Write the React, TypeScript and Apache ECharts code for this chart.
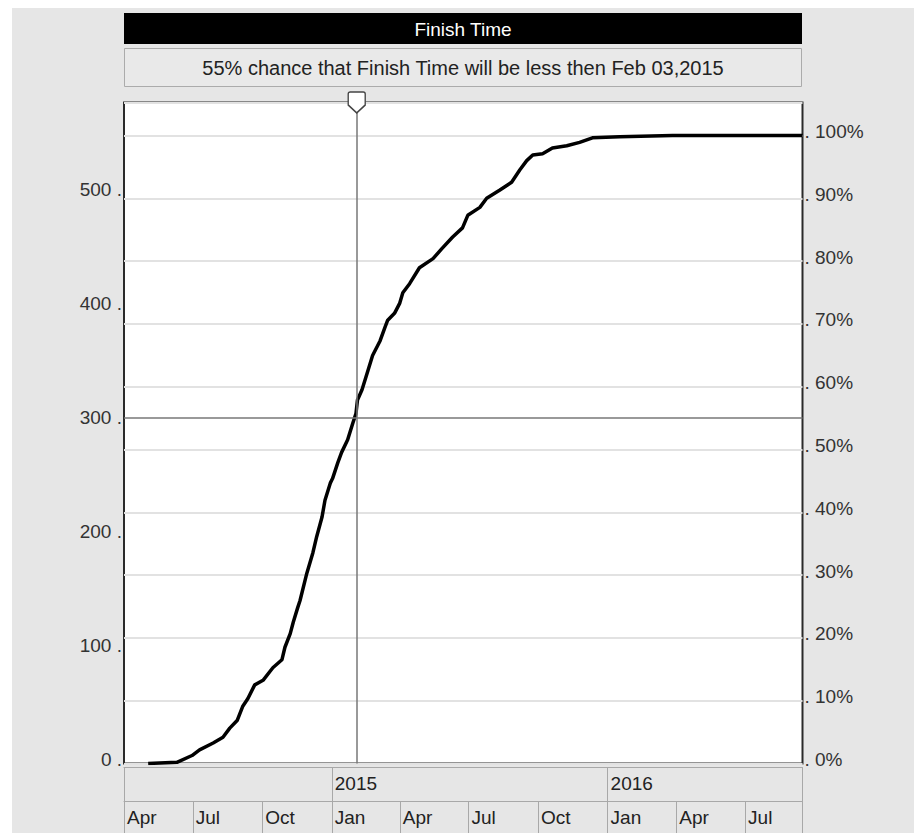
import React, { useEffect, useRef } from 'react';
import * as echarts from 'echarts';

// ---- data ----
const CURVE_DATES = [
  '2014-05-03', '2014-06-10', '2014-06-30', '2014-07-10', '2014-07-28', '2014-08-10', '2014-08-19',
  '2014-08-29', '2014-09-05', '2014-09-12', '2014-09-21', '2014-10-02', '2014-10-15', '2014-10-27',
  '2014-10-31', '2014-11-07', '2014-11-11', '2014-11-17', '2014-11-20', '2014-11-29', '2014-12-07',
  '2014-12-12', '2014-12-19', '2014-12-23', '2014-12-30', '2015-01-02', '2015-01-09', '2015-01-14',
  '2015-01-22', '2015-01-29', '2015-02-02', '2015-02-04', '2015-02-10', '2015-02-18', '2015-02-24',
  '2015-03-06', '2015-03-12', '2015-03-16', '2015-03-25', '2015-04-01', '2015-04-05', '2015-04-14',
  '2015-04-27', '2015-05-15', '2015-05-27', '2015-06-10', '2015-06-23', '2015-06-30', '2015-07-16',
  '2015-07-25', '2015-08-11', '2015-08-27', '2015-09-07', '2015-09-16', '2015-09-24', '2015-10-07',
  '2015-10-20', '2015-11-08', '2015-11-25', '2015-12-12', '2016-01-17', '2016-03-27', '2016-09-15',
];
const CURVE_COUNTS = [
  0, 1, 7, 12, 18, 23, 31,
  38, 50, 57, 69, 73, 84, 91,
  102, 114, 124, 137, 143, 167, 185,
  199, 216, 231, 246, 250, 264, 273,
  284, 299, 307, 319, 328, 345, 358,
  371, 382, 389, 395, 404, 413, 421,
  435, 443, 452, 462, 470, 481, 488,
  496, 503, 510, 521, 529, 534, 535,
  540, 542, 545, 549, 550, 551, 551,
];
const TOTAL = 551; // count that equals 100%
const CHANCE = 55;
const FINISH_DATE = '2015-02-03';
const X_MIN = '2014-04-01';
const X_MAX = '2016-09-15';
const LEFT_MAX = 580;
const LEFT_TICK_LABELS = [0, 100, 200, 300, 400, 500];
const RIGHT_TICK_LABELS = [0, 10, 20, 30, 40, 50, 60, 70, 80, 90, 100];
const QUARTER_DATES = [
  '2014-04-01', '2014-07-01', '2014-10-01', '2015-01-01', '2015-04-01',
  '2015-07-01', '2015-10-01', '2016-01-01', '2016-04-01', '2016-07-01',
];
const QUARTER_LABELS = ['Apr', 'Jul', 'Oct', 'Jan', 'Apr', 'Jul', 'Oct', 'Jan', 'Apr', 'Jul'];
const YEAR_DATES = ['2015-01-01', '2016-01-01'];
const YEAR_LABELS = ['2015', '2016'];
const TITLE = 'Finish Time';
const SUBTITLE = '55% chance that Finish Time will be less then Feb 03,2015';

function ts(s: string): number {
  const [y, m, d] = s.split('-').map(Number);
  return new Date(y, m - 1, d).getTime();
}

const FONT = 'Liberation Sans, Arial, sans-serif';

export default function App() {
  const ref = useRef<HTMLDivElement>(null);
  useEffect(() => {
    const chart = echarts.init(ref.current!, null, { renderer: 'svg' });
    const xMin = ts(X_MIN);
    const xMax = ts(X_MAX);
    const rightMax = (LEFT_MAX / TOTAL) * 100;
    const quarterMap: Record<number, string> = {};
    QUARTER_DATES.forEach((d, i) => (quarterMap[ts(d)] = QUARTER_LABELS[i]));
    const yearMap: Record<number, string> = {};
    YEAR_DATES.forEach((d, i) => (yearMap[ts(d)] = YEAR_LABELS[i]));
    const cellLine = { show: true, onZero: false, lineStyle: { color: '#a8a8a8', width: 1 } };

    const option: any = {
      animation: false,
      backgroundColor: '#e6e6e6',
      textStyle: { fontFamily: FONT },
      graphic: [
        { type: 'rect', shape: { x: 0, y: 0, width: 914, height: 8 }, style: { fill: '#fff' } },
        { type: 'rect', shape: { x: 0, y: 0, width: 12, height: 833 }, style: { fill: '#fff' } },
        { type: 'rect', shape: { x: 124, y: 13, width: 678, height: 31 }, style: { fill: '#000' } },
        {
          type: 'text', x: 463, y: 29,
          style: { text: TITLE, fill: '#fff', font: `19px ${FONT}`, textAlign: 'center', textVerticalAlign: 'middle' },
        },
        {
          type: 'rect', shape: { x: 124.5, y: 48.5, width: 677, height: 38 },
          style: { fill: '#e9e9e9', stroke: '#ababab', lineWidth: 1 },
        },
        {
          type: 'text', x: 463, y: 68,
          style: { text: SUBTITLE, fill: '#222', font: `20px ${FONT}`, textAlign: 'center', textVerticalAlign: 'middle' },
        },
      ],
      grid: {
        left: 124, right: 111.5, top: 102.5, bottom: 69.5,
        show: true, backgroundColor: '#fff', borderColor: '#2a2a2a', borderWidth: 2,
      },
      xAxis: [
        {
          type: 'value', min: xMin, max: xMax, position: 'bottom',
          axisLine: { show: false, onZero: false }, axisTick: { show: false }, axisLabel: { show: false },
          splitLine: { show: false },
        },
        {
          type: 'value', min: xMin, max: xMax, position: 'bottom', offset: 4,
          axisLine: cellLine,
          axisTick: {
            show: true, inside: false, length: 34, lineStyle: { color: '#a8a8a8', width: 1 },
            customValues: [xMin, ...YEAR_DATES.map(ts), xMax],
          },
          axisLabel: {
            show: true, customValues: YEAR_DATES.map(ts), align: 'left', margin: 6,
            padding: [0, 0, 0, 3], color: '#222', fontSize: 19, fontFamily: FONT,
            formatter: (v: number) => yearMap[v] ?? '',
          },
          splitLine: { show: false },
        },
        {
          type: 'value', min: xMin, max: xMax, position: 'bottom', offset: 38,
          axisLine: cellLine,
          axisTick: {
            show: true, inside: false, length: 34, lineStyle: { color: '#a8a8a8', width: 1 },
            customValues: [...QUARTER_DATES.map(ts), xMax],
          },
          axisLabel: {
            show: true, customValues: QUARTER_DATES.map(ts), align: 'left', margin: 6,
            padding: [0, 0, 0, 3], color: '#222', fontSize: 19, fontFamily: FONT,
            formatter: (v: number) => quarterMap[v] ?? '',
          },
          splitLine: { show: false },
        },
      ],
      yAxis: [
        {
          type: 'value', min: 0, max: LEFT_MAX, interval: 100, position: 'left',
          axisLine: { show: false, onZero: false }, axisTick: { show: false }, splitLine: { show: false },
          axisLabel: {
            show: true, showMaxLabel: false, margin: 2, verticalAlign: 'bottom', lineHeight: 9,
            color: '#333', fontSize: 19, fontFamily: FONT,
            formatter: (v: number) => (LEFT_TICK_LABELS.includes(v) ? `${v} .` : ''),
          },
        },
        {
          type: 'value', min: 0, max: rightMax, interval: 10, position: 'right',
          axisLine: { show: false, onZero: false }, axisTick: { show: false },
          splitLine: { show: true, lineStyle: { color: '#e2e2e2', width: 2 } },
          axisLabel: {
            show: true, showMaxLabel: false, margin: 2, verticalAlign: 'bottom', lineHeight: 8,
            color: '#333', fontSize: 19, fontFamily: FONT,
            formatter: (v: number) => (RIGHT_TICK_LABELS.includes(Math.round(v * 1000) / 1000) ? `. ${v}%` : ''),
          },
        },
      ],
      series: [
        {
          type: 'line', xAxisIndex: 0, yAxisIndex: 0,
          data: CURVE_DATES.map((d, i) => [ts(d), CURVE_COUNTS[i]]),
          symbol: 'none', showSymbol: false,
          lineStyle: { color: '#000', width: 3.5 },
          z: 3,
          markLine: {
            silent: true, symbol: ['none', 'none'], label: { show: false },
            lineStyle: { color: '#777', width: 1.5, type: 'solid' },
            data: [{ xAxis: ts(FINISH_DATE) }, { yAxis: (CHANCE / 100) * TOTAL }],
          },
          markPoint: {
            silent: true,
            symbol: 'path://M2,0 L15,0 Q17,0 17,2 L17,13 L8.5,21 L0,13 L0,2 Q0,0 2,0 Z',
            symbolSize: [17, 21],
            label: { show: false },
            itemStyle: { color: '#fff', borderColor: '#444', borderWidth: 1.5 },
            data: [{ coord: [ts(FINISH_DATE), LEFT_MAX] }],
          },
        },
      ],
    };
    chart.setOption(option);
    return () => chart.dispose();
  }, []);
  return <div ref={ref} style={{ position: 'fixed', left: 0, top: 0, width: 914, height: 833 }} />;
}
